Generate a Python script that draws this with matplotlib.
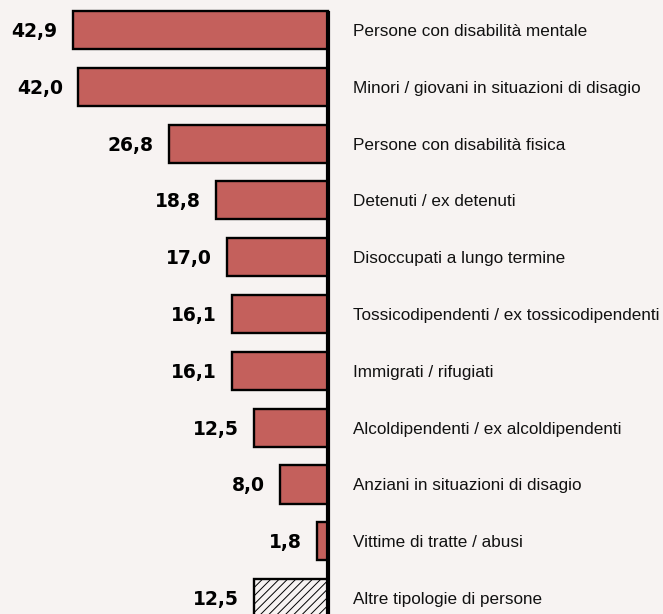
import matplotlib.pyplot as plt

categorie = [
    "Persone con disabilità mentale",
    "Minori / giovani in situazioni di disagio",
    "Persone con disabilità fisica",
    "Detenuti / ex detenuti",
    "Disoccupati a lungo termine",
    "Tossicodipendenti / ex tossicodipendenti",
    "Immigrati / rifugiati",
    "Alcoldipendenti / ex alcoldipendenti",
    "Anziani in situazioni di disagio",
    "Vittime di tratte / abusi",
    "Altre tipologie di persone",
]
valori = [42.9, 42.0, 26.8, 18.8, 17.0, 16.1, 16.1, 12.5, 8.0, 1.8, 12.5]
etichette = ["42,9", "42,0", "26,8", "18,8", "17,0", "16,1", "16,1", "12,5", "8,0", "1,8", "12,5"]

sfondo = "#f7f3f2"
rosso = "#c4605c"

plt.rcParams["hatch.linewidth"] = 0.7

fig = plt.figure(figsize=(6.63, 6.14), dpi=100, facecolor=sfondo)
ax = fig.add_axes([0, 0, 1, 1])
ax.set_facecolor(sfondo)

for i, (v, lab) in enumerate(zip(valori, etichette)):
    altro = i == len(valori) - 1
    ax.barh(i, -v, height=0.67, color=sfondo if altro else rosso,
            edgecolor="black", linewidth=1.7, hatch="////" if altro else None)
    ax.annotate(lab, (-v, i), xytext=(-11, -1), textcoords="offset points",
                ha="right", va="center", fontsize=13.5, fontweight="bold",
                family="DejaVu Sans", color="black")
    ax.annotate(categorie[i], (0, i), xytext=(18, -1), textcoords="offset points",
                ha="left", va="center", fontsize=12.3, family="Liberation Sans",
                color="#111111")

ax.plot([0, 0], [-0.335, 11], color="black", linewidth=3, solid_capstyle="butt")

ax.set_xlim(-55.2, 56.4)
ax.set_ylim(10.28, -0.528)
ax.axis("off")

plt.savefig("out.png", dpi=100, facecolor=sfondo)
